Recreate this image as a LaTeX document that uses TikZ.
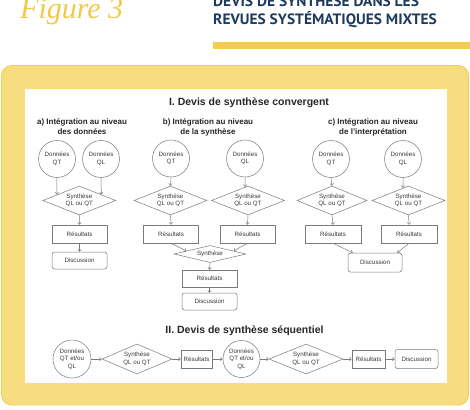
\documentclass[tikz,border=0pt]{standalone}
\usepackage{fontspec}
\usepackage{graphicx}
\setmainfont{Liberation Sans}
\newfontfamily\ptsans{PT Sans}
\newfontfamily\tnr{Liberation Serif}
\usetikzlibrary{shapes.geometric,arrows.meta,calc}
\definecolor{panel}{HTML}{F8DD80}
\definecolor{paneledge}{HTML}{F0CD5E}
\definecolor{gold}{HTML}{F2C94C}
\definecolor{navy}{HTML}{1E3A5F}
\definecolor{linegold}{HTML}{F4CC4E}
\definecolor{ln}{HTML}{7A7A7A}
\definecolor{tx}{HTML}{3A3A3A}
\tikzset{
 base/.style={draw=ln, line width=0.5pt, text=tx, font=\fontsize{6.2}{7.6}\selectfont, align=center, inner sep=0pt},
 circ/.style={base, circle, minimum size=37pt},
 dia/.style={base, diamond, aspect=2.5, minimum width=73pt, minimum height=29pt},
 box/.style={base, rectangle, minimum width=55pt, minimum height=18pt},
 rbox/.style={box, rounded corners=2.5pt},
 arr/.style={draw=ln, line width=0.5pt, -{Straight Barb[length=2pt,width=3.5pt]}},
 head/.style={font=\bfseries\fontsize{10.5}{12}\selectfont, text=black!85, inner sep=0pt, anchor=base},
 sub/.style={font=\bfseries\fontsize{8}{10}\selectfont, text=black!85, align=center, inner sep=0pt, anchor=north},
 ttl/.style={anchor=base west, inner sep=0pt, text=navy, font=\ptsans\bfseries\fontsize{15}{18}\selectfont},
}
\begin{document}
\begin{tikzpicture}[x=1pt,y=-1pt]
\useasboundingbox (0,0) rectangle (470,409);
\clip (0,0) rectangle (470,409);
\fill[white] (0,0) rectangle (470,409);
% header
\node[anchor=base west, inner sep=0pt, text=gold, font=\tnr\itshape\fontsize{30}{30}\selectfont] (fig) at (20,18.5) {Figure 3};
\node[ttl] (t1) at (213,7) {\scalebox{1.03}[1]{DEVIS DE SYNTHÈSE DANS LES}};
\node[ttl] (t2) at (213,25) {\scalebox{1.03}[1]{REVUES SYSTÉMATIQUES MIXTES}};
\fill[linegold] (213,42) rectangle (470,49);
% panel
\draw[fill=panel, draw=paneledge, line width=0.8pt, rounded corners=10pt] (1.5,65.5) rectangle (468.5,405);
\fill[white] (25,89) rectangle (447,383);
% headings
\node[head] (h1) at (249,106) {I. Devis de synthèse convergent};
\node[sub] (ha) at (82,118.3) {a) Intégration au niveau\\des données};
\node[sub] (hb) at (208,118.3) {b) Intégration au niveau\\de la synthèse};
\node[sub] (hc) at (373,118.3) {c) Intégration au niveau\\de l'interprétation};
% column a
\node[circ] (qa1) at (57,159) {Données\\QT};
\node[circ] (qa2) at (101,159) {Données\\QL};
\node[dia] (da) at (79.3,200.5) {Synthèse\\QL ou QT};
\node[box] (ra) at (79.5,234) {Résultats};
\node[rbox, minimum height=17pt] (disa) at (79.5,260.5) {Discussion};
\draw[arr] (qa1.south) -- ($(da.west)!0.39!(da.north)$);
\draw[arr] (qa2.south) -- ($(da.east)!0.4!(da.north)$);
\draw[arr] (da.south) -- (ra.north);
\draw[arr] (ra.south) -- (disa.north);
% column b
\node[circ] (qb1) at (171,158.5) {Données\\QT};
\node[circ] (qb2) at (245,158.5) {Données\\QL};
\node[dia] (db1) at (170.5,200.5) {Synthèse\\QL ou QT};
\node[dia] (db2) at (248,200.5) {Synthèse\\QL ou QT};
\node[box] (rb1) at (171,234) {Résultats};
\node[box] (rb2) at (247.5,234) {Résultats};
\node[dia, minimum width=72pt, minimum height=17pt] (sb) at (210,254) {Synthèse};
\node[box, minimum height=17pt] (rb3) at (209.5,278.5) {Résultats};
\node[rbox, minimum height=17pt] (disb) at (209.5,301.5) {Discussion};
\draw[arr] (qb1.south) -- (db1.north);
\draw[arr] (qb2.south) -- ($(db2.north)!0.08!(db2.west)$);
\draw[arr] (db1.south) -- (rb1.north);
\draw[arr] (db2.south) -- (rb2.north);
\draw[arr] (rb1.south) -- ($(sb.west)!0.35!(sb.north)$);
\draw[arr] (rb2.south) -- ($(sb.east)!0.35!(sb.north)$);
\draw[arr] (sb.south) -- (rb3.north);
\draw[arr] (rb3.south) -- (disb.north);
% column c
\node[circ] (qc1) at (331,159) {Données\\QT};
\node[circ] (qc2) at (403,159) {Données\\QL};
\node[dia, minimum width=70pt] (dc1) at (332,200.5) {Synthèse\\QL ou QT};
\node[dia] (dc2) at (408.5,200.5) {Synthèse\\QL ou QT};
\node[box, minimum width=56pt] (rc1) at (333,234) {Résultats};
\node[box, minimum width=56pt] (rc2) at (409,234) {Résultats};
\node[rbox, minimum width=54pt, minimum height=19pt] (disc) at (375,262.5) {Discussion};
\draw[arr] (qc1.south) -- (dc1.north);
\draw[arr] (qc2.south) -- ($(dc2.north)!0.15!(dc2.west)$);
\draw[arr] (dc1.south) -- (rc1.north);
\draw[arr] (dc2.south) -- (rc2.north);
\draw[arr] (rc1.south) -- ($(disc.north west)+(5,0)$);
\draw[arr] (rc2.south) -- ($(disc.north east)+(-5,0)$);
% section II
\node[head] (h2) at (244.5,333) {II. Devis de synthèse séquentiel};
\node[circ, minimum size=38pt] (s1) at (72,359) {Données\\QT et/ou\\QL};
\node[dia, minimum width=70pt, minimum height=30pt] (s2) at (137,359) {Synthèse\\QL ou QT};
\node[box, minimum width=31pt] (s3) at (196.5,359) {Résultats};
\node[circ, minimum size=37pt] (s4) at (241.5,359) {Données\\QT et/ou\\QL};
\node[dia, minimum width=74pt, minimum height=30pt] (s5) at (306,359) {Synthèse\\QL ou QT};
\node[box, minimum width=33pt] (s6) at (368.5,359) {Résultats};
\node[rbox, minimum width=43pt, minimum height=19pt] (s7) at (416.5,359) {Discussion};
\draw[arr] (s1) -- (s2);
\draw[arr] (s2) -- (s3);
\draw[arr] (s3) -- (s4);
\draw[arr] (s4) -- (s5);
\draw[arr] (s5) -- (s6);
\draw[arr] (s6) -- (s7);
\end{tikzpicture}
\end{document}
